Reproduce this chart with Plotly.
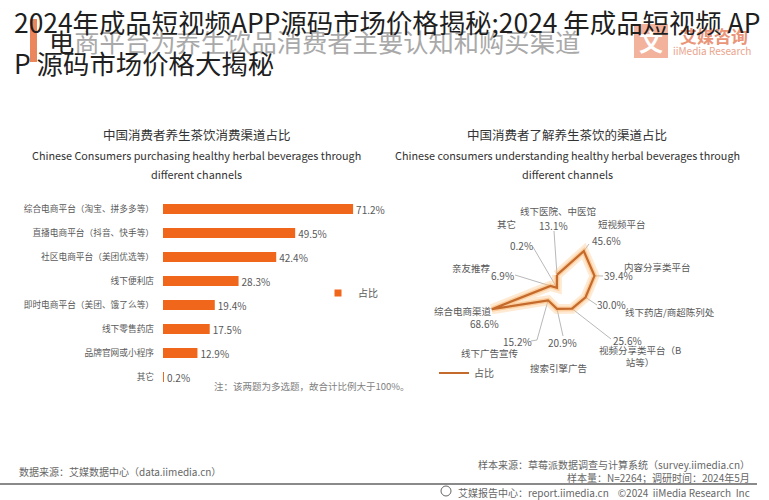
import math
import plotly.graph_objects as go

W, H = 769, 500
FONT = "Noto Sans CJK SC"

# ---------------- data ----------------
bar_categories = [
    "综合电商平台（淘宝、拼多多等）",
    "直播电商平台（抖音、快手等）",
    "社区电商平台（美团优选等）",
    "线下便利店",
    "即时电商平台（美团、饿了么等）",
    "线下零售药店",
    "品牌官网或小程序",
    "其它",
]
bar_values = [71.2, 49.5, 42.4, 28.3, 19.4, 17.5, 12.9, 0.2]

radar_categories = [
    "线下医院、中医馆",
    "短视频平台",
    "内容分享类平台",
    "线下药店/商超陈列处",
    "视频分享类平台（B站等）",
    "搜索引擎广告",
    "线下广告宣传",
    "综合电商渠道",
    "亲友推荐",
    "其它",
]
radar_label_text = [
    "线下医院、中医馆",
    "短视频平台",
    "内容分享类平台",
    "线下药店/商超陈列处",
    "视频分享类平台（B<br>站等）",
    "搜索引擎广告",
    "线下广告宣传",
    "综合电商渠道",
    "亲友推荐",
    "其它",
]
radar_values = [13.1, 45.6, 39.4, 30.0, 25.6, 20.9, 15.2, 68.6, 6.9, 0.2]
series_name = "占比"

# ---------------- layout helpers ----------------
def px(x):
    return x / W


def py(y):
    return 1 - y / H


GRAY = "#595959"
BAR_COLOR = "#F0671C"
LINE_COLOR = "#C46A2C"

# polar geometry (pixels)
CX, CY, RPX, RMAX = 557, 288, 80, 80
polar_x = [px(CX - RPX), px(CX + RPX)]
polar_y = [py(CY + RPX), py(CY - RPX)]

fig = go.Figure()

# ---------------- bar chart ----------------
fig.add_trace(go.Bar(
    x=bar_values,
    y=bar_categories,
    orientation="h",
    marker=dict(color=BAR_COLOR, line=dict(width=0)),
    text=[f"{v:.1f}%" for v in bar_values],
    textposition="outside",
    constraintext="none",
    textfont=dict(family=FONT, size=10, color=GRAY),
    cliponaxis=False,
    showlegend=False,
    hoverinfo="skip",
))
# legend entry (small square)
fig.add_trace(go.Scatter(
    x=[None], y=[None], mode="markers", name=series_name,
    marker=dict(symbol="square", size=7, color=BAR_COLOR),
    legend="legend", showlegend=True,
))

# ---------------- radar chart ----------------
r_closed = radar_values + radar_values[:1]
t_closed = radar_categories + radar_categories[:1]
fig.add_trace(go.Scatterpolar(
    r=r_closed, theta=t_closed, mode="lines",
    line=dict(color="rgba(253,196,130,0.35)", width=10),
    showlegend=False, hoverinfo="skip",
))
fig.add_trace(go.Scatterpolar(
    r=r_closed, theta=t_closed, mode="lines",
    line=dict(color="rgba(250,170,90,0.45)", width=5),
    showlegend=False, hoverinfo="skip",
))
fig.add_trace(go.Scatterpolar(
    r=r_closed, theta=t_closed, mode="lines", name=series_name,
    line=dict(color=LINE_COLOR, width=2.2),
    legend="legend2", showlegend=True,
))

n = len(radar_values)


def vertex(i):
    a = math.radians(i * 360 / n)
    k = RPX / RMAX
    v = radar_values[i]
    return CX + v * k * math.sin(a), CY - v * k * math.cos(a)


# label placement (pixels): name (x,y), value (x,y), leader start (x,y) or None
radar_label_pos = [
    ((558, 211), (553, 226), (554, 231)),
    ((622, 224), (606, 240), (589, 244)),
    ((657, 267), (618, 275), (603, 276)),
    ((670, 312), (611, 304), (597, 305)),
    ((640, 356), (627, 340), (611, 339)),
    ((558, 368), (562, 342), (563, 336)),
    ((490, 353), (517, 341), (537, 340)),
    ((463, 311), (484, 323), None),
    ((471, 268), (502, 275), (515, 275)),
    ((506, 224), (521, 245), (533, 247)),
]

annotations = []
shapes = []
for i, (npos, vpos, lead) in enumerate(radar_label_pos):
    annotations.append(dict(
        x=px(npos[0]), y=py(npos[1]), xref="paper", yref="paper",
        text=radar_label_text[i], showarrow=False,
        font=dict(family=FONT, size=9.5, color=GRAY),
        xanchor="center", yanchor="middle", align="center",
    ))
    annotations.append(dict(
        x=px(vpos[0]), y=py(vpos[1]), xref="paper", yref="paper",
        text=f"{radar_values[i]:.1f}%", showarrow=False,
        font=dict(family=FONT, size=10, color=GRAY),
        xanchor="center", yanchor="middle",
    ))
    if lead is not None:
        vx, vy = vertex(i)
        shapes.append(dict(
            type="line", xref="paper", yref="paper",
            x0=px(lead[0]), y0=py(lead[1]), x1=px(vx), y1=py(vy),
            line=dict(color="#a6a6a6", width=0.8), layer="below",
        ))
# little tick beside 15.2%
shapes.append(dict(type="line", xref="paper", yref="paper",
                   x0=px(531), y0=py(341), x1=px(537), y1=py(340),
                   line=dict(color="#a6a6a6", width=0.8)))

# ---------------- titles & texts ----------------
def txt(x, y, s, size, color=GRAY, anchor="center", yanchor="middle", **kw):
    annotations.append(dict(
        x=px(x), y=py(y), xref="paper", yref="paper", text=s, showarrow=False,
        font=dict(family=FONT, size=size, color=color),
        xanchor=anchor, yanchor=yanchor, **kw))


# chart titles
txt(197, 134, "中国消费者养生茶饮消费渠道占比", 12.5, "#333333")
txt(197, 155, "Chinese Consumers purchasing healthy herbal beverages through", 10.8, "#333333")
txt(197, 174, "different channels", 10.8, "#333333")
txt(567, 134, "中国消费者了解养生茶饮的渠道占比", 12.5, "#333333")
txt(567, 155, "Chinese consumers understanding healthy herbal beverages through", 10.8, "#333333")
txt(567, 174, "different channels", 10.8, "#333333")

# note
txt(212, 386, "注：该两题为多选题，故合计比例大于100%。", 9.5, "#7f7f7f", anchor="left")

# header (faded) + left accent bar
shapes.append(dict(type="rect", xref="paper", yref="paper",
                   x0=px(30), x1=px(37), y0=py(62), y1=py(19),
                   fillcolor="#E8703F", line=dict(width=0), opacity=0.85))
txt(47, 41, "<span style='color:#222222'>电</span>商平台为养生饮品消费者主要认知和购买渠道",
    25.3, "#a9a9a9", anchor="left")

# logo
shapes.append(dict(type="rect", xref="paper", yref="paper",
                   x0=px(634), x1=px(668), y0=py(58), y1=py(24),
                   fillcolor="#F2B29C", line=dict(width=0)))
txt(651, 41, "<b>文</b>", 24, "#ffffff")
txt(714, 36, "<b>艾媒咨询</b>", 17, "#EA9478")
txt(712, 51, "iiMedia Research", 10, "#EAA48C")

# overlay article title
txt(12, 21, "2024年成品短视频APP源码市场价格揭秘;2024 年成品短视频 AP", 26.4, "#1f1f1f", anchor="left")
txt(12, 62, "P 源码市场价格大揭秘", 26.4, "#1f1f1f", anchor="left")

# footer
txt(17, 471, "数据来源：艾媒数据中心（data.iimedia.cn）", 10, "#666666", anchor="left")
txt(752, 464, "样本来源：草莓派数据调查与计算系统（survey.iimedia.cn）", 10, "#666666", anchor="right")
txt(752, 477, "样本量：N=2264；调研时间：2024年5月", 10, "#666666", anchor="right")
shapes.append(dict(type="line", xref="paper", yref="paper",
                   x0=0, x1=px(757), y0=py(484), y1=py(484),
                   line=dict(color="#8a8a8a", width=2)))
shapes.append(dict(type="circle", xref="paper", yref="paper",
                   x0=px(441), x1=px(451), y0=py(496), y1=py(486),
                   line=dict(color="#666666", width=1)))
txt(752, 492, "艾媒报告中心：report.iimedia.cn&nbsp;&nbsp;&nbsp;&nbsp;©2024&nbsp;&nbsp;iiMedia Research&nbsp;&nbsp;Inc",
    10, "#666666", anchor="right")

# ---------------- layout ----------------
row_top, row_bottom = 197, 389
fig.update_layout(
    width=W, height=H,
    margin=dict(l=0, r=0, t=0, b=0),
    paper_bgcolor="white", plot_bgcolor="white",
    font=dict(family=FONT, color=GRAY),
    bargap=0.58,
    xaxis=dict(domain=[px(163), px(163) + 80 * 2.67 / W], range=[0, 80],
               visible=False, fixedrange=True),
    yaxis=dict(domain=[py(row_bottom), py(row_top)], autorange="reversed",
               categoryorder="array", categoryarray=bar_categories,
               showline=False, showgrid=False, zeroline=False,
               ticks="", ticklabelstandoff=8,
               tickfont=dict(family=FONT, size=8.7, color=GRAY)),
    polar=dict(
        domain=dict(x=polar_x, y=polar_y),
        bgcolor="rgba(0,0,0,0)",
        radialaxis=dict(visible=False, range=[0, RMAX]),
        angularaxis=dict(visible=False, rotation=90, direction="clockwise",
                         categoryorder="array", categoryarray=radar_categories),
    ),
    legend=dict(x=px(318), y=py(293), xanchor="left", yanchor="middle",
                bgcolor="rgba(0,0,0,0)", font=dict(family=FONT, size=10, color=GRAY)),
    legend2=dict(x=px(434), y=py(373), xanchor="left", yanchor="middle",
                 bgcolor="rgba(0,0,0,0)", font=dict(family=FONT, size=10, color=GRAY)),
    annotations=annotations,
    shapes=shapes,
)

fig.write_html("out.html")
